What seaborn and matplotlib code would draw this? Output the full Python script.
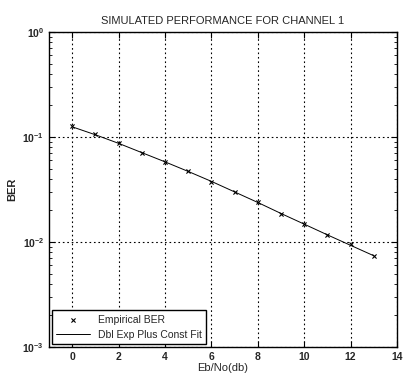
import numpy as np
import pandas as pd
import matplotlib
matplotlib.use("Agg")
import matplotlib.pyplot as plt
import matplotlib.ticker as mticker
import seaborn as sns

# values
ebno_db = [0, 1, 2, 3, 4, 5, 6, 7, 8, 9, 10, 11, 12, 13]
empirical_ber = [0.127, 0.106, 0.087, 0.071, 0.058, 0.047, 0.0376,
                 0.030, 0.024, 0.0186, 0.0148, 0.0117, 0.0095, 0.0073]
fit_ber = [0.125, 0.105, 0.087, 0.071, 0.058, 0.047, 0.0378,
           0.030, 0.0238, 0.0187, 0.0148, 0.0117, 0.0093, 0.0074]
x_ticks = [0, 2, 4, 6, 8, 10, 12, 14]

df = pd.DataFrame({"ebno": ebno_db, "emp": empirical_ber, "fit": fit_ber})

sns.set_style("ticks")
plt.rcParams["font.family"] = ["Liberation Sans", "DejaVu Sans"]

fig = plt.figure(figsize=(4.03, 3.79), dpi=100)
ax = fig.add_axes([0.1216, 0.0844, 0.8634, 0.8312])

sns.scatterplot(data=df, x="ebno", y="emp", marker="x", color="black", s=9,
                linewidth=0.8, ax=ax, label="Empirical BER", zorder=3)
sns.lineplot(data=df, x="ebno", y="fit", color="black", linewidth=0.7,
             ax=ax, label="Dbl Exp Plus Const Fit", zorder=2)

ax.set_yscale("log")
ax.set_xlim(-1, 14)
ax.set_ylim(1e-3, 1)
ax.set_xticks(x_ticks)
ax.set_yticks([1e-3, 1e-2, 1e-1, 1])
ax.yaxis.set_minor_locator(mticker.LogLocator(base=10, subs=np.arange(2, 10), numticks=20))
ax.yaxis.set_minor_formatter(mticker.NullFormatter())
ax.grid(True, which="major", color="black", linestyle=(0, (1.5, 2.5)), linewidth=0.8)
ax.tick_params(which="both", direction="in", top=True, right=True, labelsize=7.5,
               color="black")
ax.tick_params(which="major", length=4, width=0.8)
ax.tick_params(which="minor", length=2.5, width=0.6, left=True, right=True)
for lab in ax.get_xticklabels() + ax.get_yticklabels():
    lab.set_fontweight("bold")
for sp in ax.spines.values():
    sp.set_linewidth(1.0)
    sp.set_color("black")

ax.set_title("SIMULATED PERFORMANCE FOR CHANNEL 1", fontsize=8, pad=6)
ax.set_xlabel("Eb/No(db)", fontsize=8, labelpad=1)
ax.set_ylabel("BER", fontsize=8, fontweight="bold", labelpad=4)

leg = ax.legend(loc="lower left", fontsize=7.5, frameon=True, fancybox=False,
                edgecolor="black", borderaxespad=0.3, handlelength=3.2,
                framealpha=1)
leg.get_frame().set_linewidth(1.0)

fig.savefig("out.png", dpi=100)
